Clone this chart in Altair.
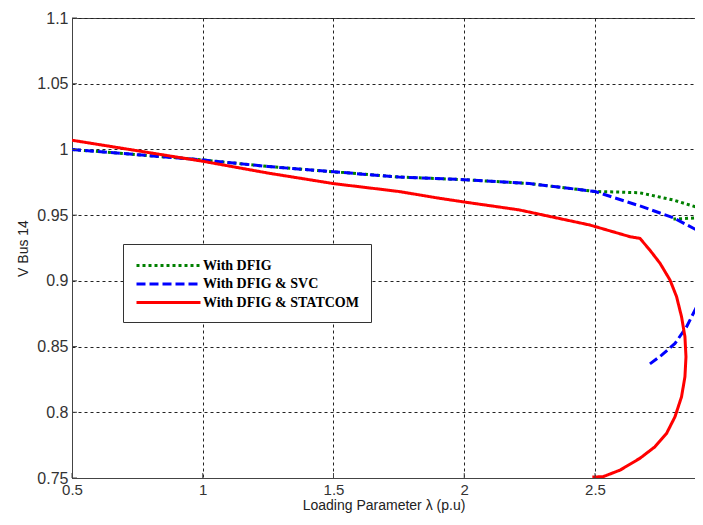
import altair as alt
import pandas as pd

series_names = ["With DFIG", "With DFIG & SVC", "With DFIG & STATCOM"]
series_colors = ["#008000", "#0000ff", "#ff0000"]

dfig_x = [0.5, 0.75, 1.0, 1.25, 1.5, 1.75, 2.0, 2.25, 2.5, 2.6, 2.672, 2.80, 2.89, 2.94, 2.90, 2.80]
dfig_y = [1.0, 0.996, 0.992, 0.987, 0.983, 0.979, 0.977, 0.974, 0.968, 0.9675, 0.967, 0.9615, 0.956, 0.952, 0.948, 0.947]

svc_x = [0.5, 0.75, 1.0, 1.25, 1.5, 1.75, 2.0, 2.25, 2.5, 2.672, 2.80, 2.889, 2.92, 2.93, 2.908, 2.889, 2.85, 2.806, 2.755, 2.704]
svc_y = [1.0, 0.996, 0.992, 0.987, 0.983, 0.979, 0.977, 0.974, 0.968, 0.957, 0.948, 0.9387, 0.925, 0.912, 0.8968, 0.8803, 0.865, 0.8524, 0.8435, 0.8359]

statcom_x = [0.5, 0.75, 1.0, 1.25, 1.5, 1.75, 1.9, 2.0, 2.21, 2.48, 2.634, 2.672, 2.71, 2.749, 2.787,
             2.812, 2.831, 2.844, 2.848, 2.844, 2.831, 2.806, 2.774, 2.729, 2.672, 2.596, 2.531, 2.49]
statcom_y = [1.007, 0.999, 0.991, 0.982, 0.974, 0.968, 0.963, 0.960, 0.954, 0.9425, 0.9336, 0.9323, 0.9234,
             0.9133, 0.9006, 0.888, 0.8727, 0.8575, 0.8422, 0.827, 0.8118, 0.7966, 0.784, 0.7737, 0.765,
             0.756, 0.751, 0.7507]

x_ticks = [0.5, 1.0, 1.5, 2.0, 2.5]
y_ticks = [0.75, 0.8, 0.85, 0.9, 0.95, 1.0, 1.05, 1.1]

rows = []
for name, xs, ys in [(series_names[0], dfig_x, dfig_y),
                     (series_names[1], svc_x, svc_y),
                     (series_names[2], statcom_x, statcom_y)]:
    for i, (a, b) in enumerate(zip(xs, ys)):
        rows.append({"series": name, "x": a, "y": b, "i": i})
df = pd.DataFrame(rows)

x_scale = alt.Scale(domain=[0.5, 2.8825], nice=False, zero=False)
y_scale = alt.Scale(domain=[0.75, 1.1], nice=False, zero=False)

label_font = "Liberation Sans"
common = dict(grid=True, gridDash=[3, 3], gridColor="#222", gridOpacity=1, gridWidth=1,
              domainColor="#444", ticks=False, labelFont=label_font,
              labelColor="#333", labelFlush=False, labelOverlap=False, format="~g",
              titleFont=label_font, titleFontSize=14, titleFontWeight="normal", titleColor="#222")

legend = alt.Legend(orient="none", legendX=51, legendY=226, title=None,
                    symbolType="M-4,0L4,0", symbolSize=256, symbolStrokeWidth=3,
                    symbolOffset=24, labelOffset=25,
                    labelFont="Liberation Serif", labelFontWeight="bold", labelFontSize=14,
                    labelColor="black", fillColor="white", strokeColor="#333",
                    padding=12, rowPadding=1.5)

lines = alt.Chart(df).mark_line(strokeWidth=3, clip=True, strokeCap="butt").encode(
    x=alt.X("x:Q", scale=x_scale,
            axis=alt.Axis(values=x_ticks, title="Loading Parameter λ (p.u)", labelPadding=4,
                          labelFontSize=15, titleY=31, titleBaseline="alphabetic", **common)),
    y=alt.Y("y:Q", scale=y_scale,
            axis=alt.Axis(values=y_ticks, title="V Bus 14", labelPadding=4, labelFontSize=16,
                          titlePadding=6, **common)),
    color=alt.Color("series:N", scale=alt.Scale(domain=series_names, range=series_colors),
                    legend=legend),
    strokeDash=alt.StrokeDash("series:N",
                              scale=alt.Scale(domain=series_names, range=[[3, 3], [9, 4], [1, 0]]),
                              legend=legend),
    order=alt.Order("i:Q"),
)

ytick_layer = alt.Chart(pd.DataFrame({"y": y_ticks})).mark_rule(color="#444", strokeWidth=1).encode(
    y=alt.Y("y:Q", scale=y_scale), x=alt.value(0), x2=alt.value(5))
xtick_layer = alt.Chart(pd.DataFrame({"x": x_ticks})).mark_rule(color="#444", strokeWidth=1).encode(
    x=alt.X("x:Q", scale=x_scale), y=alt.value(460), y2=alt.value(455))

chart = alt.layer(lines, ytick_layer, xtick_layer).properties(
    width=623, height=460,
    autosize=alt.AutoSizeParams(type="none"),
    padding={"left": 64, "top": 10, "right": 0, "bottom": 37},
    background="white",
).configure_view(stroke="#444", strokeWidth=1)

chart.save("out.html", embed_options={"renderer": "svg", "actions": False})
